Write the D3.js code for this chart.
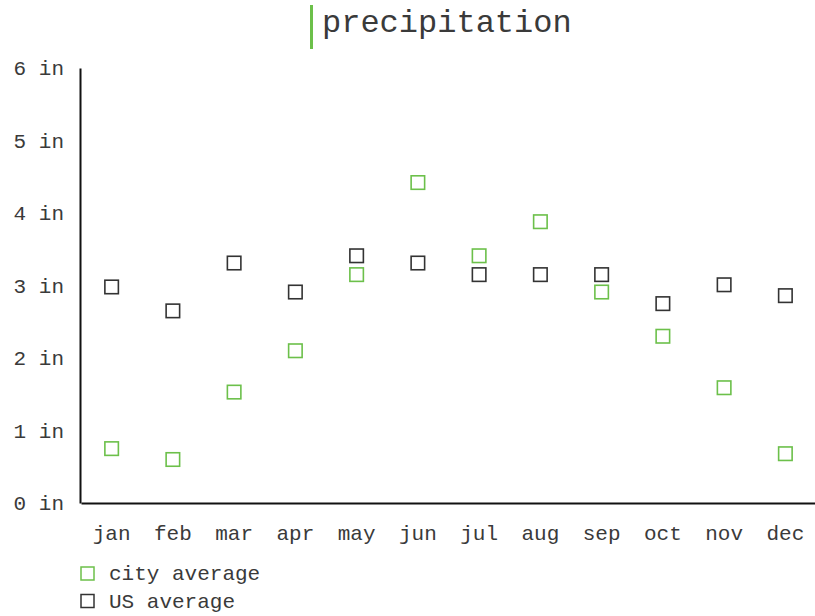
<!DOCTYPE html>
<html>
<head>
<meta charset="utf-8">
<script src="https://cdn.jsdelivr.net/npm/d3@7"></script>
<style>
  body { margin: 0; background: #fff; }
  text { font-family: "Liberation Mono", "Courier New", monospace; fill: #3a3a3a; }
</style>
</head>
<body>
<div id="chart"></div>
<script>
// Monthly precipitation, inches
var months = ["jan", "feb", "mar", "apr", "may", "jun", "jul", "aug", "sep", "oct", "nov", "dec"];
var cityAvg = [0.75, 0.60, 1.53, 2.10, 3.15, 4.42, 3.41, 3.88, 2.91, 2.30, 1.59, 0.68];
var usAvg   = [2.98, 2.65, 3.31, 2.91, 3.41, 3.31, 3.15, 3.15, 3.15, 2.75, 3.01, 2.86];
var yTicks  = [0, 1, 2, 3, 4, 5, 6];

var seriesNames  = ["city average", "US average"];
var seriesColors = ["#6cc04a", "#333333"];

var width  = 815;
var height = 616;

var svg = d3.select("div#chart")
            .append("svg")
            .attr("width", width)
            .attr("height", height);

// Title with the little green bar in front
svg.append("rect")
   .attr("x", 310)
   .attr("y", 5)
   .attr("width", 3)
   .attr("height", 44)
   .attr("fill", "#6cc04a");

svg.append("text")
   .attr("x", 322)
   .attr("y", 32)
   .style("font-size", "32px")
   .text("precipitation");

// Scales
var x = d3.scaleBand()
          .domain(months)
          .range([81, 816]);

var y = d3.scaleLinear()
          .domain([0, 6])
          .range([503, 68]);

// Axes
var yAxis = svg.append("g")
               .attr("transform", "translate(80,0)")
               .call(d3.axisLeft(y)
                       .tickValues(yTicks)
                       .tickSize(0)
                       .tickPadding(16)
                       .tickFormat(function(d) { return d + " in"; }));

var xAxis = svg.append("g")
               .attr("transform", "translate(0,503)")
               .call(d3.axisBottom(x)
                       .tickSize(0)
                       .tickPadding(22));

[yAxis, xAxis].forEach(function(ax) {
    ax.select(".domain")
      .attr("stroke", "#111")
      .attr("stroke-width", 2);
    ax.selectAll("text")
      .attr("fill", "#3a3a3a")
      .style("font-family", "'Liberation Mono', 'Courier New', monospace")
      .style("font-size", "21px");
});

// Points, drawn as hollow squares
var size = 13.5;
var series = [cityAvg, usAvg];

series.forEach(function(values, i) {
    svg.append("g")
       .attr("class", "series")
       .selectAll("rect")
       .data(values)
       .enter()
       .append("rect")
       .attr("x", function(d, j) { return x(months[j]) + x.bandwidth() / 2 - size / 2; })
       .attr("y", function(d) { return y(d) - size / 2; })
       .attr("width", size)
       .attr("height", size)
       .attr("fill", "none")
       .attr("stroke", seriesColors[i])
       .attr("stroke-width", 1.6);
});

// Legend
var legend = svg.append("g")
                .attr("transform", "translate(81,567)")
                .selectAll("g")
                .data(seriesNames)
                .enter()
                .append("g")
                .attr("transform", function(d, i) { return "translate(0," + (i * 27.5) + ")"; });

legend.append("rect")
      .attr("width", 13)
      .attr("height", 13)
      .attr("fill", "none")
      .attr("stroke", function(d, i) { return seriesColors[i]; })
      .attr("stroke-width", 1.5);

legend.append("text")
      .attr("x", 28)
      .attr("y", 13)
      .style("font-size", "21px")
      .text(function(d) { return d; });
</script>
</body>
</html>
